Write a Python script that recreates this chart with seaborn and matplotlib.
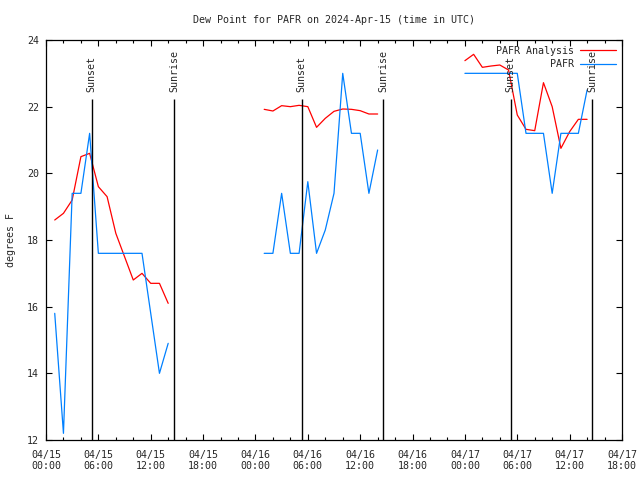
import pandas as pd
import matplotlib
matplotlib.use("Agg")
import matplotlib.pyplot as plt
import matplotlib.dates as mdates
from matplotlib.lines import Line2D
import seaborn as sns

# ----------------------------
# Data (hours after 2024-04-15 00:00 UTC)
# ----------------------------
START = pd.Timestamp("2024-04-15 00:00")

day1_hours = [1, 2, 3, 4, 5, 6, 7, 8, 9, 10, 11, 12, 13, 14]
day2_hours = [25, 26, 27, 28, 29, 30, 31, 32, 33, 34, 35, 36, 37, 38]
day3_hours = [48, 49, 50, 51, 52, 53, 54, 55, 56, 57, 58, 59, 60, 61, 62]

analysis_day1 = [18.6, 18.8, 19.2, 20.5, 20.6, 19.6, 19.3, 18.2, 17.5, 16.8, 17.0, 16.7, 16.7, 16.1]
analysis_day2 = [21.92, 21.87, 22.03, 22.0, 22.04, 22.0, 21.38, 21.65, 21.86, 21.93, 21.92, 21.88, 21.78, 21.78]
analysis_day3 = [23.38, 23.57, 23.18, 23.22, 23.25, 23.1, 21.75, 21.32, 21.28, 22.72, 22.0, 20.75, 21.25, 21.62, 21.62]

obs_day1 = [15.8, 12.2, 19.4, 19.4, 21.2, 17.6, 17.6, 17.6, 17.6, 17.6, 17.6, 15.8, 14.0, 14.9]
obs_day2 = [17.6, 17.6, 19.4, 17.6, 17.6, 19.75, 17.6, 18.3, 19.4, 23.0, 21.2, 21.2, 19.4, 20.7]
obs_day3 = [23.0, 23.0, 23.0, 23.0, 23.0, 23.0, 23.0, 21.2, 21.2, 21.2, 19.4, 21.2, 21.2, 21.2, 22.5]

sunset_times = ["2024-04-15 05:15", "2024-04-16 05:18", "2024-04-17 05:14"]
sunrise_times = ["2024-04-15 14:42", "2024-04-16 14:39", "2024-04-17 14:33"]

SERIES_COLORS = {"PAFR Analysis": "#ff0000", "PAFR": "#0080ff"}

# ----------------------------
# Build long table
# ----------------------------
rows = []
segments = [(day1_hours, analysis_day1, obs_day1),
            (day2_hours, analysis_day2, obs_day2),
            (day3_hours, analysis_day3, obs_day3)]
for seg, (hrs, ana, obs) in enumerate(segments):
    for h, a, o in zip(hrs, ana, obs):
        t = START + pd.Timedelta(hours=h)
        rows.append({"time": t, "value": a, "series": "PAFR Analysis", "segment": seg})
        rows.append({"time": t, "value": o, "series": "PAFR", "segment": seg})
df = pd.DataFrame(rows)

# ----------------------------
# Plot
# ----------------------------
sns.set_style("ticks")
plt.rcParams["font.family"] = ["DejaVu Sans Mono"]
FS = 7.2

fig = plt.figure(figsize=(6.4, 4.8), dpi=100)
ax = fig.add_axes([46 / 640, 40 / 480, 576 / 640, 400 / 480])

sns.lineplot(data=df, x="time", y="value", hue="series", units="segment",
             estimator=None, palette=SERIES_COLORS, linewidth=0.9,
             legend=False, ax=ax)

# sunrise / sunset markers
for label, times in (("Sunset", sunset_times), ("Sunrise", sunrise_times)):
    for t in pd.to_datetime(times):
        ax.vlines(t, 12, 22.22, color="black", linewidth=1.0)
        ax.text(t, 22.45, label, rotation=90, ha="center", va="bottom", fontsize=FS)

ax.set_xlim(START, START + pd.Timedelta(hours=66))
ax.set_ylim(12, 24)
ax.set_yticks([12, 14, 16, 18, 20, 22, 24])
ax.xaxis.set_major_locator(mdates.HourLocator(byhour=[0, 6, 12, 18]))
ax.xaxis.set_minor_locator(mdates.HourLocator(interval=2))
ax.xaxis.set_major_formatter(mdates.DateFormatter("%m/%d\n%H:%M"))

ax.tick_params(which="both", direction="in", top=True, right=True,
               labelsize=FS, width=0.8, color="black")
ax.tick_params(which="major", length=4.5)
ax.tick_params(which="minor", length=2.5)
ax.tick_params(axis="x", pad=7)
ax.tick_params(axis="y", pad=5)
for s in ax.spines.values():
    s.set_linewidth(0.9)
    s.set_color("black")

ax.set_xlabel("")
ax.set_ylabel("degrees F", fontsize=FS, labelpad=8)
ax.set_title("Dew Point for PAFR on 2024-Apr-15 (time in UTC)", fontsize=FS, pad=12)

handles = [Line2D([], [], color=SERIES_COLORS["PAFR Analysis"], linewidth=0.9),
           Line2D([], [], color=SERIES_COLORS["PAFR"], linewidth=0.9)]
labels = ["PAFR Analysis", "         PAFR"]
ax.legend(handles, labels, loc="upper right", frameon=False, markerfirst=False,
          fontsize=FS, handlelength=3.6, handletextpad=0.6,
          labelspacing=0.35, borderaxespad=0.2)

fig.savefig("out.png", dpi=100)
